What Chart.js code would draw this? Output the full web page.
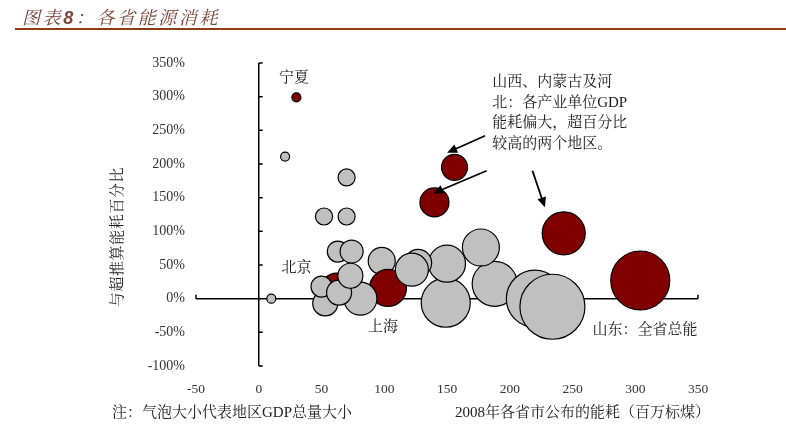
<!DOCTYPE html>
<html>
<head>
<meta charset="utf-8">
<title>图表8：各省能源消耗</title>
<script src="https://cdn.jsdelivr.net/npm/chart.js@4.4.0/dist/chart.umd.min.js"></script>
<style>
body { margin: 0; background: #fff; }
#wrap { position: relative; width: 786px; height: 435px; overflow: hidden; }
#bubble_energy { position: absolute; left: 0; top: 0; }
.title { position: absolute; left: 22px; top: 3px; font-family: "Noto Serif CJK SC", "Noto Sans CJK SC", serif; font-size: 18px; line-height: 26px; font-style: italic; color: #7a4436; letter-spacing: 2.6px; white-space: nowrap; }
.title b { font-family: "Liberation Sans", Arial, sans-serif; font-weight: bold; }
.rule { position: absolute; left: 15px; right: 0; top: 28px; height: 2px; background: #8c3b12; }
.note { position: absolute; top: 403px; font-family: "Liberation Serif", "Noto Serif CJK SC", "Noto Sans CJK SC", serif; font-size: 15px; line-height: 18px; color: #222; white-space: nowrap; }
</style>
</head>
<body>
<div id="wrap">
  <canvas id="bubble_energy" width="786" height="435"></canvas>
  <div class="title">图表<b>8</b>：各省能源消耗</div>
  <div class="rule"></div>
  <div class="note" style="left:112px">注：气泡大小代表地区GDP总量大小</div>
  <div class="note" style="left:455px">2008年各省市公布的能耗（百万标煤）</div>
</div>
<script>
var xTicks = [-50, 0, 50, 100, 150, 200, 250, 300, 350];
var yTicks = [-100, -50, 0, 50, 100, 150, 200, 250, 300, 350];

// 能耗(百万标煤) / 与超推算能耗百分比 / GDP总量 / 是否红色标出
var energy    = [188, 177, 220, 234, 149, 150,  98, 103, 127, 122,  62,  81,  53,  50,  64,  63,  74,  73,  70,  52,  70,  21,  10, 140, 156, 243, 304,  30];
var excessPct = [ 22,  76,   0, -12,  -6,  52,  56,  16,  53,  43,  15,   0,  -7,  18,   9,  70,  70,  34, 180, 122, 122, 211,   0, 143, 195,  97,  27, 299];
var gdp       = [1750,1190,2780,3600,2070,1190, 650,1190, 650, 955, 850, 955, 560, 400, 560, 400, 476, 560, 268, 268, 268,  83,  83, 744, 602,1600,2975,  83];
var highRed   = [0, 0, 0, 0, 0, 0, 0, 1, 0, 0, 1, 0, 0, 0, 0, 0, 0, 0, 0, 0, 0, 0, 0, 1, 1, 1, 1, 1];

// 图中文字标注 (数据坐标)
var pointLabels = [
    { text: '宁夏', x: 28, y: 327, align: 'center' },
    { text: '北京', x: 30, y: 45, align: 'center' },
    { text: '上海', x: 99, y: -42, align: 'center' },
    { text: '山东：全省总能', x: 266, y: -47, align: 'left' }
];
var noteLines = ['山西、内蒙古及河', '北：各产业单位GDP', '能耗偏大，超百分比', '较高的两个地区。'];
var noteLineY = [321, 291, 261, 230];
var noteX = 186;
var arrows = [
    [180.4, 242, 150.1, 216.8],
    [181.6, 190, 139, 156.4],
    [218.1, 190, 228, 135.6]
];

var cjkFont = '"Liberation Serif", "Noto Serif CJK SC", "Noto Sans CJK SC", serif';

var points = [];
var colors = [];
for (i = 0; i < energy.length; i++) {
    points.push({ x: energy[i], y: excessPct[i], r: 0.55 * Math.sqrt(gdp[i]) - 0.5 });
    colors.push(highRed[i] == 1 ? '#800000' : '#c0c0c0');
}

function drawArrow(ctx, x1, y1, x2, y2) {
    var a = Math.atan2(y2 - y1, x2 - x1);
    ctx.beginPath();
    ctx.moveTo(x1, y1);
    ctx.lineTo(x2 - 6 * Math.cos(a), y2 - 6 * Math.sin(a));
    ctx.stroke();
    ctx.beginPath();
    ctx.moveTo(x2, y2);
    ctx.lineTo(x2 - 10 * Math.cos(a) + 4.5 * Math.sin(a), y2 - 10 * Math.sin(a) - 4.5 * Math.cos(a));
    ctx.lineTo(x2 - 10 * Math.cos(a) - 4.5 * Math.sin(a), y2 - 10 * Math.sin(a) + 4.5 * Math.cos(a));
    ctx.closePath();
    ctx.fill();
}

var axisPlugin = {
    id: 'axisPlugin',
    beforeDatasetsDraw: function (chart) {
        var ctx = chart.ctx, xs = chart.scales.x, ys = chart.scales.y;
        var x0 = xs.getPixelForValue(0), y0 = ys.getPixelForValue(0);
        ctx.save();
        ctx.strokeStyle = '#000';
        ctx.lineWidth = 1.5;
        ctx.beginPath();
        // 横轴在0%处
        ctx.moveTo(xs.getPixelForValue(xTicks[0]), y0);
        ctx.lineTo(xs.getPixelForValue(xTicks[xTicks.length - 1]), y0);
        xTicks.forEach(function (v) {
            var p = xs.getPixelForValue(v);
            ctx.moveTo(p, y0);
            ctx.lineTo(p, y0 - 4);
        });
        // 纵轴在0处
        ctx.moveTo(x0, ys.getPixelForValue(yTicks[yTicks.length - 1]));
        ctx.lineTo(x0, ys.getPixelForValue(yTicks[0]));
        yTicks.forEach(function (v) {
            var p = ys.getPixelForValue(v);
            ctx.moveTo(x0, p);
            ctx.lineTo(x0 + 4, p);
        });
        ctx.stroke();
        ctx.restore();
    },
    afterDatasetsDraw: function (chart) {
        var ctx = chart.ctx, xs = chart.scales.x, ys = chart.scales.y;
        ctx.save();
        ctx.fillStyle = '#1a1a1a';
        ctx.textBaseline = 'middle';
        ctx.font = '15px ' + cjkFont;
        pointLabels.forEach(function (l) {
            ctx.textAlign = l.align;
            ctx.fillText(l.text, xs.getPixelForValue(l.x), ys.getPixelForValue(l.y));
        });
        ctx.textAlign = 'left';
        for (i = 0; i < noteLines.length; i++) {
            ctx.fillText(noteLines[i], xs.getPixelForValue(noteX), ys.getPixelForValue(noteLineY[i]));
        }
        ctx.strokeStyle = '#000';
        ctx.fillStyle = '#000';
        ctx.lineWidth = 1.8;
        arrows.forEach(function (a) {
            drawArrow(ctx, xs.getPixelForValue(a[0]), ys.getPixelForValue(a[1]),
                xs.getPixelForValue(a[2]), ys.getPixelForValue(a[3]));
        });
        // 纵轴标题
        ctx.translate(118, 237);
        ctx.rotate(-Math.PI / 2);
        ctx.textAlign = 'center';
        ctx.fillStyle = '#1a1a1a';
        ctx.font = '15px ' + cjkFont;
        ctx.letterSpacing = '0.6px';
        ctx.fillText('与超推算能耗百分比', 0, 0);
        ctx.restore();
    }
};

var config = {
    type: 'bubble',
    data: {
        datasets: [{
            label: '各省能耗',
            data: points,
            backgroundColor: colors,
            borderColor: '#000',
            borderWidth: 1.2
        }]
    },
    options: {
        responsive: false,
        animation: false,
        events: [],
        layout: { padding: { left: 0, right: 88, top: 63, bottom: 0 } },
        plugins: { legend: { display: false }, tooltip: { enabled: false } },
        scales: {
            x: {
                type: 'linear',
                min: -50,
                max: 350,
                afterBuildTicks: function (s) { s.ticks = xTicks.map(function (v) { return { value: v }; }); },
                afterFit: function (s) { s.height = 69; },
                grid: { display: false, drawTicks: false },
                border: { display: false },
                ticks: { padding: 15, color: '#333', maxRotation: 0, autoSkip: false, font: { family: '"Liberation Serif", serif', size: 13.5 } }
            },
            y: {
                type: 'linear',
                min: -100,
                max: 350,
                afterBuildTicks: function (s) { s.ticks = yTicks.map(function (v) { return { value: v }; }); },
                afterFit: function (s) { s.width = 196; },
                grid: { display: false, drawTicks: false },
                border: { display: false },
                ticks: { padding: 11, color: '#333', autoSkip: false, font: { family: '"Liberation Serif", serif', size: 14 },
                    callback: function (v) { return v + '%'; } }
            }
        }
    },
    plugins: [axisPlugin]
};

new Chart(document.getElementById("bubble_energy").getContext("2d"), config);
</script>
</body>
</html>
